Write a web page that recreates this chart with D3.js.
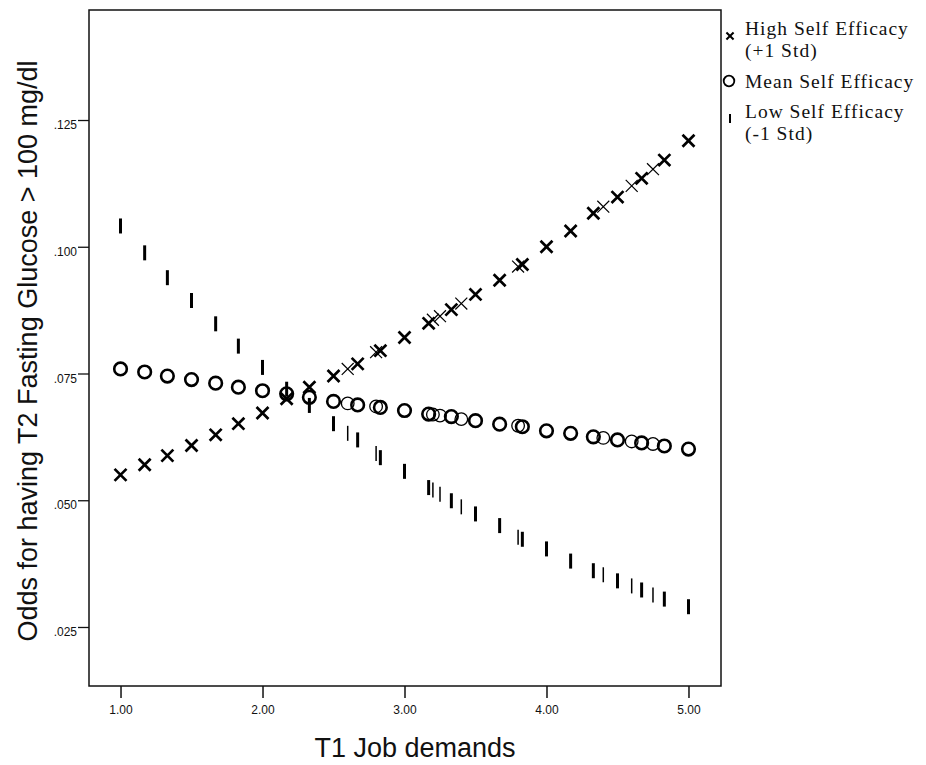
<!DOCTYPE html>
<html>
<head>
<meta charset="utf-8">
<script src="https://cdn.jsdelivr.net/npm/d3@7"></script>
<style>
  html, body { margin: 0; padding: 0; background: #fff; }
  svg { display: block; }
</style>
</head>
<body>
<svg id="chart" width="926" height="765"></svg>
<script>
// ---------- data ----------
const jobDemands = [1.00,1.17,1.33,1.50,1.67,1.83,2.00,2.17,2.33,2.50,2.60,2.67,2.80,2.83,3.00,3.17,3.20,3.25,3.33,3.40,3.50,3.67,3.80,3.83,4.00,4.17,4.33,4.40,4.50,4.60,4.67,4.75,4.83,5.00];
const highSE = [.0550,.0570,.0588,.0608,.0629,.0651,.0672,.0700,.0723,.0745,.0759,.0769,.0792,.0795,.0821,.0849,.0856,.0863,.0876,.0888,.0906,.0934,.0961,.0965,.1000,.1031,.1066,.1079,.1098,.1120,.1135,.1153,.1171,.1209];
const meanSE = [.0759,.0753,.0745,.0738,.0731,.0723,.0716,.0710,.0703,.0695,.0691,.0688,.0685,.0683,.0677,.0670,.0669,.0667,.0665,.0660,.0657,.0650,.0647,.0645,.0637,.0632,.0625,.0623,.0619,.0616,.0613,.0611,.0607,.0601];
const lowSE  = [.1041,.0988,.0939,.0894,.0848,.0804,.0762,.0719,.0687,.0651,.0632,.0619,.0592,.0584,.0557,.0525,.0520,.0512,.0499,.0487,.0473,.0450,.0427,.0423,.0404,.0380,.0361,.0353,.0341,.0331,.0323,.0313,.0305,.0290];
const xTicks = [1, 2, 3, 4, 5];
const yTicks = [.025, .050, .075, .100, .125];
const legendLabels = [["High Self Efficacy", "(+1 Std)"], ["Mean Self Efficacy"], ["Low Self Efficacy", "(-1 Std)"]];
const xTitle = "T1 Job demands";
const yTitle = "Odds for having T2 Fasting Glucose > 100 mg/dl";

// ---------- layout ----------
const plot = {left: 89, right: 721, top: 10, bottom: 686};
const svg = d3.select("#chart");

const x = d3.scaleLinear().domain([0.778, 5.229]).range([plot.left, plot.right]);
const y = d3.scaleLinear().domain([0.01336, 0.1467]).range([plot.bottom, plot.top]);

// main points (multiples of 1/6) are drawn heavier (overlapping cases)
const isMain = v => Math.abs(v * 6 - Math.round(v * 6)) < 0.05;

// frame
svg.append("rect")
  .attr("x", plot.left).attr("y", plot.top)
  .attr("width", plot.right - plot.left).attr("height", plot.bottom - plot.top)
  .attr("fill", "none").attr("stroke", "#111").attr("stroke-width", 1.5);

// axes
const xAxis = d3.axisBottom(x).tickValues(xTicks).tickFormat(d3.format(".2f")).tickSize(12).tickPadding(7);
const gx = svg.append("g").attr("transform", `translate(0,${plot.bottom})`).call(xAxis);
gx.select(".domain").remove();
gx.selectAll("line").attr("stroke", "#111").attr("stroke-width", 1.5);
gx.selectAll("text").attr("font-family", "Liberation Sans, Arial, sans-serif").attr("font-size", 12).attr("fill", "#111");

const yAxis = d3.axisLeft(y).tickValues(yTicks).tickFormat(d => d3.format(".3f")(d).replace(/^0/, "")).tickSize(11).tickPadding(1);
const gy = svg.append("g").attr("transform", `translate(${plot.left},0)`).call(yAxis);
gy.select(".domain").remove();
gy.selectAll("line").attr("stroke", "#111").attr("stroke-width", 1.3);
gy.selectAll("text").attr("font-family", "Liberation Sans, Arial, sans-serif").attr("font-size", 12).attr("fill", "#111").attr("dy", "0.72em");

// titles
svg.append("text")
  .attr("x", 415).attr("y", 757)
  .attr("text-anchor", "middle")
  .attr("font-family", "Liberation Sans, Arial, sans-serif").attr("font-size", 27).attr("fill", "#111")
  .text(xTitle);
svg.append("text")
  .attr("transform", `translate(37,351) rotate(-90)`)
  .attr("text-anchor", "middle")
  .attr("font-family", "Liberation Sans, Arial, sans-serif").attr("font-size", 27).attr("fill", "#111")
  .text(yTitle);

const pts = (vals) => jobDemands.map((d, i) => ({x: d, y: vals[i], main: isMain(d)}));

// Low self efficacy: vertical bars
svg.append("g").selectAll("line").data(pts(lowSE)).join("line")
  .attr("x1", d => x(d.x)).attr("x2", d => x(d.x))
  .attr("y1", d => y(d.y) - 7.5).attr("y2", d => y(d.y) + 7.5)
  .attr("stroke", "#000").attr("stroke-width", d => d.main ? 3 : 1.5);

// Mean self efficacy: open circles
svg.append("g").selectAll("circle").data(pts(meanSE)).join("circle")
  .attr("cx", d => x(d.x)).attr("cy", d => y(d.y)).attr("r", 6.3)
  .attr("fill", "none").attr("stroke", "#000").attr("stroke-width", d => d.main ? 2.6 : 1.3);

// High self efficacy: x crosses
const cross = d3.symbol().type(d3.symbolX).size(95);
svg.append("g").selectAll("path").data(pts(highSE)).join("path")
  .attr("transform", d => `translate(${x(d.x)},${y(d.y)})`)
  .attr("d", cross)
  .attr("fill", "none").attr("stroke", "#000").attr("stroke-width", d => d.main ? 2.7 : 1.2);

// legend
const lg = svg.append("g").attr("font-family", "Liberation Serif, Times New Roman, serif")
  .attr("font-size", 19.5).attr("letter-spacing", "1px").attr("fill", "#111");
const lx = 730, tx = 745;
const entryY = [35, 88, 118];
lg.append("path").attr("transform", `translate(${lx},${entryY[0] + 1})`).attr("d", d3.symbol().type(d3.symbolX).size(35)).attr("stroke", "#000").attr("stroke-width", 2).attr("fill", "none");
lg.append("circle").attr("cx", lx - 1).attr("cy", entryY[1] - 7).attr("r", 5.3).attr("fill", "none").attr("stroke", "#000").attr("stroke-width", 1.8);
lg.append("line").attr("x1", lx).attr("x2", lx).attr("y1", entryY[2] - 4).attr("y2", entryY[2] + 5).attr("stroke", "#000").attr("stroke-width", 2);
legendLabels.forEach((lines, i) => {
  lines.forEach((t, j) => {
    lg.append("text").attr("x", tx).attr("y", entryY[i] + j * 22).text(t);
  });
});
</script>
</body>
</html>
